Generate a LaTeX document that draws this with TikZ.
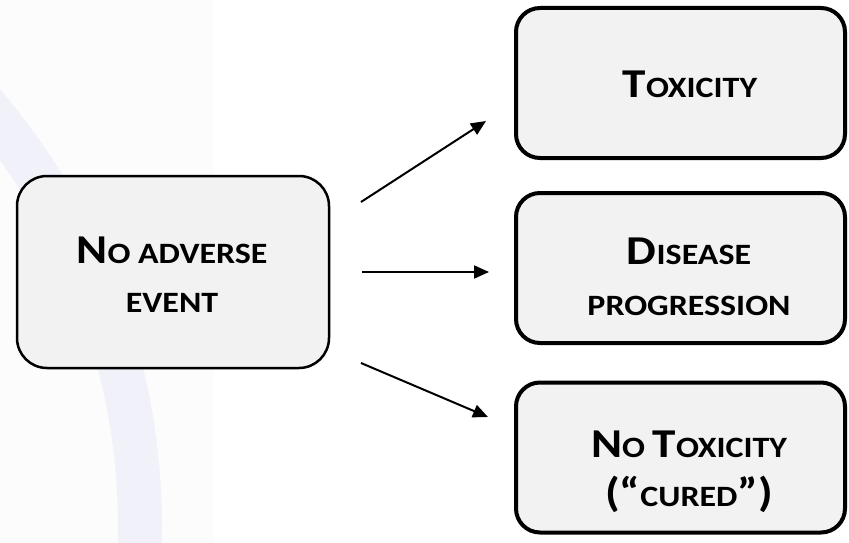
\documentclass[tikz,border=0pt]{standalone}
\usepackage{fontspec}
\setmainfont{Carlito}[FakeStretch=1.15]
\usetikzlibrary{arrows.meta}
\definecolor{boxfill}{RGB}{242,242,242}
\definecolor{lav}{RGB}{241,241,250}
\definecolor{faint}{RGB}{252,252,252}
\newcommand\Lg[1]{{\fontsize{41}{50}\selectfont #1}}
\tikzset{
  mainbox/.style={draw=black, fill=boxfill, line width=2.5pt, rounded corners=30pt,
    minimum width=312pt, minimum height=192pt},
  outbox/.style={draw=black, fill=boxfill, line width=4pt, rounded corners=24pt,
    minimum width=329pt, minimum height=150pt},
  txt/.style={anchor=base, inner sep=0pt, font=\bfseries\fontsize{29.5}{50}\selectfont},
  arr/.style={line width=2pt, -{Triangle[length=15pt,width=13pt]}}
}
\begin{document}
\begin{tikzpicture}[x=1pt,y=-1pt]
\useasboundingbox (0,0) rectangle (849,543);
\begin{scope}
\clip (0,0) rectangle (849,543);
\fill[faint] (0,0) rectangle (213,543);
\draw[lav, line width=44pt] (-510,527) circle (650);
\end{scope}
\node[mainbox] (L) at (173,272) {};
\node[outbox] (T) at (680.5,83) {};
\node[outbox] (D) at (680.5,268) {};
\node[outbox] (N) at (680.5,457.5) {};
\node[txt] (L1) at (172,263) {\Lg{N}O ADVERSE};
\node[txt] (L2) at (172,312) {EVENT};
\node[txt] (T1) at (690,97) {\Lg{T}OXICITY};
\node[txt] (D1) at (689,264) {\Lg{D}ISEASE};
\node[txt] (D2) at (689,315) {PROGRESSION};
\node[txt] (N1) at (689,457) {\Lg{N}O \Lg{T}OXICITY};
\node[txt] (N2) at (689,506) {\Lg{(“}CURED\Lg{”)}};
\coordinate (a1) at (361,202);
\coordinate (b1) at (486,121);
\coordinate (a2) at (362,272);
\coordinate (b2) at (489,272);
\coordinate (a3) at (361,363);
\coordinate (b3) at (488,417);
\draw[arr] (a1) -- (b1);
\draw[arr] (a2) -- (b2);
\draw[arr] (a3) -- (b3);
\end{tikzpicture}
\end{document}
